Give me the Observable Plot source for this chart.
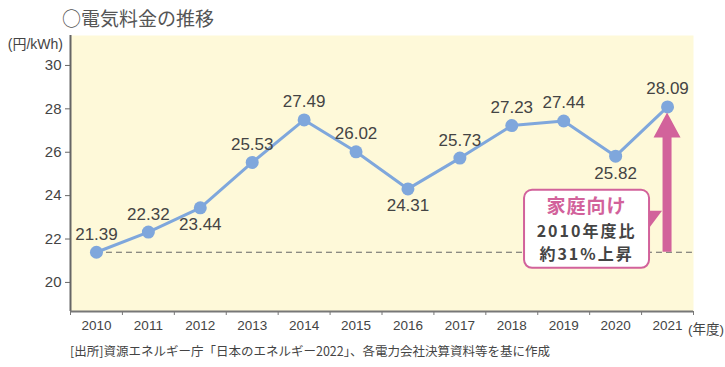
<!DOCTYPE html>
<html>
<head>
<meta charset="utf-8">
<script src="https://cdn.jsdelivr.net/npm/d3@7"></script>
<script src="https://cdn.jsdelivr.net/npm/@observablehq/plot@0.6"></script>
<style>
  body { margin: 0; background: #fff; width: 725px; height: 367px; overflow: hidden; }
  #title { height: 26px; box-sizing: border-box; padding: 8px 0 0 62px; font: 19px/19px "Noto Sans CJK JP", sans-serif; color: #555; }
  #caption { height: 22px; line-height: 22px; padding-left: 70px; font: 12.5px "Noto Sans CJK JP", sans-serif; color: #444; white-space: nowrap; }
  svg { display: block; overflow: visible; }
</style>
</head>
<body>
<div id="title">○電気料金の推移</div>
<div id="chart"></div>
<div id="caption">[出所]資源エネルギー庁「日本のエネルギー2022」、各電力会社決算資料等を基に作成</div>
<script>
const years = [2010, 2011, 2012, 2013, 2014, 2015, 2016, 2017, 2018, 2019, 2020, 2021];
const prices = [21.39, 22.32, 23.44, 25.53, 27.49, 26.02, 24.31, 25.73, 27.23, 27.44, 25.82, 28.09];
const labelBelowYears = [2012, 2016, 2020];
const yTicks = [20, 22, 24, 26, 28, 30];
const unitLabel = "(円/kWh)";
const yearUnit = "(年度)";
const noteLines = ["家庭向け", "2010年度比", "約31%上昇"];

(function () {
const data = years.map((y, i) => ({year: y, price: prices[i], below: labelBelowYears.includes(y)}));
const yMin = 18.66, yMax = 31.38;
const blue = "#7fa7dc", pink = "#d2629b", bg = "#fef9d9";
const latin = "'Liberation Sans', 'Noto Sans CJK JP', sans-serif";

const plot = Plot.plot({
  width: 725, height: 315,
  marginTop: 9, marginBottom: 30, marginLeft: 70, marginRight: 32,
  style: {fontFamily: latin, fontSize: "15px", background: "transparent", overflow: "visible", color: "#444"},
  x: {domain: [years[0] - 0.5, years[years.length - 1] + 0.5]},
  y: {domain: [yMin, yMax]},
  marks: [
    Plot.frame({fill: bg, stroke: "none"}),
    Plot.axisY({ticks: yTicks, tickSize: 5, tickPadding: 4, stroke: "#666", fill: "#444", label: null}),
    Plot.axisX({ticks: d3.range(years[0] - 0.5, years[years.length - 1] + 1, 1), tickSize: 4, tickFormat: () => "", stroke: "#777", label: null}),
    Plot.text(years, {x: d => d, frameAnchor: "bottom", dy: 18, text: d => String(d), fontSize: 13.5, fill: "#444"}),
    Plot.ruleX([years[0] - 0.5], {stroke: "#666", strokeWidth: 2}),
    Plot.ruleY([yMin], {stroke: "#777", strokeWidth: 2}),
    Plot.ruleY([prices[0]], {x1: years[0], x2: years[years.length - 1] + 0.5, stroke: "#666", strokeWidth: 1.2, strokeDasharray: "6,4"}),
    Plot.line(data, {x: "year", y: "price", stroke: blue, strokeWidth: 3}),
    Plot.dot(data, {x: "year", y: "price", r: 6.5, fill: blue, stroke: "none"}),
    Plot.text(data.filter(d => !d.below), {x: "year", y: "price", text: d => d.price.toFixed(2), dy: -18, fontSize: 17, fill: "#444"}),
    Plot.text(data.filter(d => d.below), {x: "year", y: "price", text: d => d.price.toFixed(2), dy: 17, fontSize: 17, fill: "#444"})
  ]
});
document.getElementById("chart").appendChild(plot);

const sx = plot.scale("x"), sy = plot.scale("y");
const svg = d3.select(plot);
const ax = sx.apply(years[years.length - 1]);
const y0 = sy.apply(prices[0]);
const y1 = sy.apply(prices[prices.length - 1]);

svg.append("text").attr("x", 63).attr("y", 18).attr("dy", "0.35em").attr("text-anchor", "end")
  .attr("font-size", 14).attr("fill", "#444").attr("font-family", latin).text(unitLabel);
svg.append("text").attr("x", sx.apply(years[years.length - 1] + 0.5) - 5).attr("y", 303).attr("dy", "0.35em")
  .attr("text-anchor", "start").attr("font-size", 13.5).attr("fill", "#444").attr("font-family", latin).text(yearUnit);

const tipY = y1 + 6, baseY = tipY + 25;
svg.append("path").attr("fill", pink)
  .attr("d", `M${ax - 4.5},${y0} L${ax - 4.5},${baseY} L${ax - 13.5},${baseY} L${ax},${tipY} L${ax + 13.5},${baseY} L${ax + 4.5},${baseY} L${ax + 4.5},${y0} Z`);

const bxR = ax - 18, bxL = bxR - 125, bxB = y0 + 16, bxT = bxB - 78;
svg.append("path").attr("fill", pink)
  .attr("d", `M${bxR - 2},${bxT + 21} L${ax - 5},${bxT + 21} L${bxR - 2},${bxT + 41} Z`);
svg.append("rect").attr("x", bxL).attr("y", bxT).attr("width", bxR - bxL).attr("height", bxB - bxT)
  .attr("rx", 8).attr("fill", "#fff").attr("stroke", pink).attr("stroke-width", 2);
const cx = (bxL + bxR) / 2;
const g = svg.append("g").attr("font-family", "'Noto Sans CJK JP', sans-serif").attr("font-weight", "bold").attr("text-anchor", "middle");
g.append("text").attr("x", cx).attr("y", bxT + 16).attr("dy", "0.36em").attr("font-size", 19).attr("letter-spacing", 1).attr("fill", pink).text(noteLines[0]);
g.append("text").attr("x", cx).attr("y", bxT + 41).attr("dy", "0.36em").attr("font-size", 16).attr("letter-spacing", 2).attr("fill", "#444").text(noteLines[1]);
g.append("text").attr("x", cx).attr("y", bxT + 64.5).attr("dy", "0.36em").attr("font-size", 16).attr("letter-spacing", 2).attr("fill", "#444").text(noteLines[2]);
})();
</script>
</body>
</html>
